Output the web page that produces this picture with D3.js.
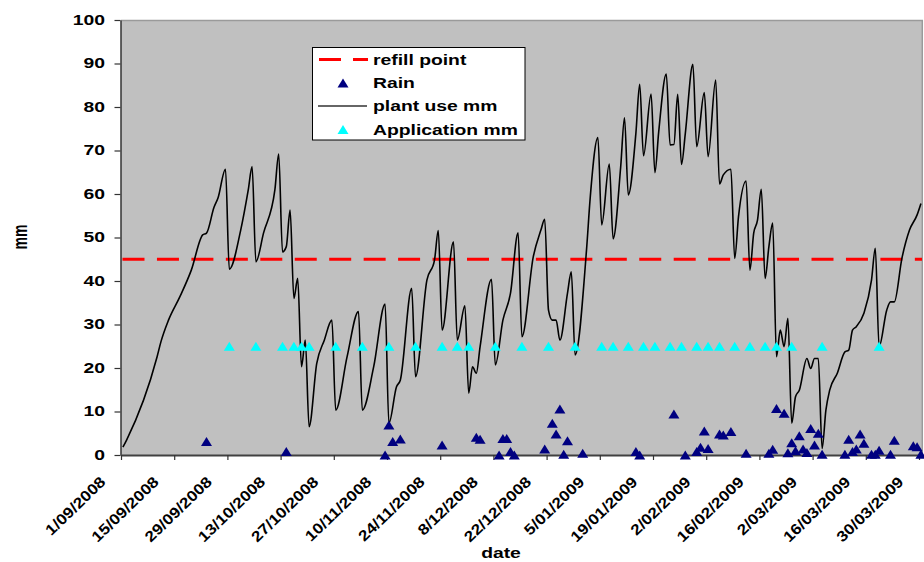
<!DOCTYPE html>
<html><head><meta charset="utf-8">
<script src="https://cdn.jsdelivr.net/npm/d3@7"></script>
<style>
html,body{margin:0;padding:0;background:#fff;}
svg{display:block;font-family:"Liberation Sans",Arial,sans-serif;font-weight:bold;}
</style>
</head><body>
<svg id="chart" width="924" height="562"></svg>
<script>
// ---------- data ----------
const tickDates = ["2008-09-01","2008-09-15","2008-09-29","2008-10-13","2008-10-27","2008-11-10","2008-11-24",
  "2008-12-08","2008-12-22","2009-01-05","2009-01-19","2009-02-02","2009-02-16","2009-03-02","2009-03-16","2009-03-30"];
const yTicks = [0,10,20,30,40,50,60,70,80,90,100];
const refillPoint = 45;

const plantUse = [
["2008-09-01",1.8],["2008-09-02",3.5],["2008-09-10",22.6],["2008-09-11",26],["2008-09-13",31],["2008-09-16",36.4],
["2008-09-19",42.5],["2008-09-22",50.6],["2008-09-23",51],["2008-09-25",57],["2008-09-26",59],["2008-09-28",65.7],
["2008-09-29",42.7],["2008-10-02",51.7],["2008-10-04",61],["2008-10-05",66.3],["2008-10-06",44.4],["2008-10-08",51],
["2008-10-11",61],["2008-10-12",69.2],["2008-10-13",46.7],["2008-10-14",47.9],["2008-10-15",56.3],["2008-10-16",36],
["2008-10-17",40.6],["2008-10-18",20.3],["2008-10-19",26.4],["2008-10-20",6.5],["2008-10-22",21],["2008-10-24",26.4],
["2008-10-26",31],["2008-10-27",10.3],["2008-10-30",22.6],["2008-11-02",33],["2008-11-03",10.3],["2008-11-06",20.3],
["2008-11-09",34.7],["2008-11-10",7.3],["2008-11-12",15.7],["2008-11-13",17.2],["2008-11-16",38.3],["2008-11-17",18],
["2008-11-20",40.2],["2008-11-22",44.8],["2008-11-23",51.6],["2008-11-24",28.7],["2008-11-27",49],["2008-11-28",26.4],
["2008-11-30",34.3],["2008-12-01",14.2],["2008-12-02",20.3],["2008-12-03",18.8],["2008-12-04",24.9],["2008-12-07",40.4],
["2008-12-08",20.7],["2008-12-10",31],["2008-12-12",37.2],["2008-12-14",51.1],["2008-12-15",27.2],["2008-12-18",45.6],
["2008-12-20",51.7],["2008-12-21",54.2],["2008-12-22",33.3],["2008-12-23",31],["2008-12-24",31],["2008-12-25",26.4],
["2008-12-27",37.2],["2008-12-28",42.1],["2008-12-29",23],["2009-01-01",47.1],["2009-01-02",59.4],["2009-01-04",73],
["2009-01-05",52.9],["2009-01-07",66.9],["2009-01-08",49.7],["2009-01-10",66.3],["2009-01-11",77.5],["2009-01-12",59.8],
["2009-01-14",74],["2009-01-15",85.2],["2009-01-16",68.8],["2009-01-18",83],["2009-01-19",64.9],["2009-01-20",74.3],
["2009-01-22",87.6],["2009-01-23",71.3],["2009-01-24",71.4],["2009-01-25",82.9],["2009-01-26",66.8],["2009-01-27",73.9],
["2009-01-29",89.8],["2009-01-30",70.9],["2009-02-01",83.3],["2009-02-02",68.6],["2009-02-04",86.2],["2009-02-05",62.3],
["2009-02-06",64.4],["2009-02-08",65.7],["2009-02-09",45.2],["2009-02-10",54.8],["2009-02-12",63],["2009-02-13",42.5],
["2009-02-14",51],["2009-02-15",54],["2009-02-16",61.1],["2009-02-17",40.6],["2009-02-18",47.9],["2009-02-19",53.3],
["2009-02-20",22.6],["2009-02-21",28.7],["2009-02-22",24.9],["2009-02-23",31.4],["2009-02-24",7.3],["2009-02-25",13.4],
["2009-02-26",14.9],["2009-02-28",22.2],["2009-03-01",19.9],["2009-03-02",22.2],["2009-03-03",22.2],["2009-03-04",1.5],
["2009-03-05",10.3],["2009-03-06",14.9],["2009-03-08",18.8],["2009-03-10",23.7],["2009-03-11",24.1],["2009-03-12",28.7],
["2009-03-13",29.5],["2009-03-15",32.6],["2009-03-17",40.2],["2009-03-18",47.5],["2009-03-19",24.9],["2009-03-21",33.3],
["2009-03-22",35.2],["2009-03-23",35.2],["2009-03-25",45.2],["2009-03-27",51.7],["2009-03-29",55.2],["2009-03-30",57.8]
];

const rain = [
["2008-09-23",3.1],["2008-10-14",0.8],["2008-11-09",0],["2008-11-10",6.9],["2008-11-11",3.1],["2008-11-13",3.7],
["2008-11-24",2.3],["2008-12-03",4.1],["2008-12-04",3.6],["2008-12-09",0],["2008-12-10",3.8],["2008-12-11",3.8],
["2008-12-12",0.8],["2008-12-13",0],["2008-12-21",1.4],["2008-12-23",7.3],["2008-12-24",4.8],["2008-12-25",10.6],
["2008-12-26",0.2],["2008-12-27",3.3],["2008-12-31",0.4],["2009-01-14",0.8],["2009-01-15",0],["2009-01-24",9.4],
["2009-01-27",0],["2009-01-30",0.8],["2009-01-31",1.8],["2009-02-01",5.5],["2009-02-02",1.5],["2009-02-05",4.8],
["2009-02-06",4.6],["2009-02-08",5.4],["2009-02-12",0.4],["2009-02-18",0.4],["2009-02-19",1.3],["2009-02-20",10.7],
["2009-02-22",9.6],["2009-02-23",0.5],["2009-02-24",2.8],["2009-02-25",1],["2009-02-26",4.4],["2009-02-27",1.4],
["2009-02-28",0.6],["2009-03-01",6.1],["2009-03-02",2.3],["2009-03-03",5],["2009-03-04",0.2],["2009-03-10",0.2],
["2009-03-11",3.6],["2009-03-12",0.8],["2009-03-13",1.4],["2009-03-14",4.8],["2009-03-15",2.7],["2009-03-17",0.2],
["2009-03-18",0.2],["2009-03-19",1.1],["2009-03-22",0.2],["2009-03-23",3.4],["2009-03-28",2.1],["2009-03-29",1.9],
["2009-03-30",0.2]
];

const application = [
["2008-09-29",25],["2008-10-06",25],["2008-10-13",25],["2008-10-16",25],["2008-10-18",25],["2008-10-20",25],
["2008-10-27",25],["2008-11-03",25],["2008-11-10",25],["2008-11-17",25],["2008-11-24",25],["2008-11-28",25],
["2008-12-01",25],["2008-12-08",25],["2008-12-15",25],["2008-12-22",25],["2008-12-29",25],["2009-01-05",25],
["2009-01-08",25],["2009-01-12",25],["2009-01-16",25],["2009-01-19",25],["2009-01-23",25],["2009-01-26",25],
["2009-01-30",25],["2009-02-02",25],["2009-02-05",25],["2009-02-09",25],["2009-02-13",25],["2009-02-17",25],
["2009-02-20",25],["2009-02-24",25],["2009-03-04",25],["2009-03-19",25]
];

const legendItems = ["refill point","Rain","plant use mm","Application mm"];

// ---------- drawing ----------
const parse = d3.utcParse("%Y-%m-%d");
const noon = d => d3.utcHour.offset(parse(d), 12);
const SX = 1.38; // horizontal text stretch

const x = d3.scaleUtc().domain([parse("2008-09-01"), parse("2009-03-31")]).range([121, 922.8]);
const y = d3.scaleLinear().domain([0, 100]).range([455, 20]);

const svg = d3.select("#chart");

// plot area
svg.append("rect").attr("x", 121).attr("y", 20).attr("width", 801.5).attr("height", 435).attr("fill", "#C0C0C0");
svg.append("path").attr("d", "M121,20.5H922.3V455").attr("fill", "none").attr("stroke", "#9a9a9a").attr("stroke-width", 1.5);

// refill line
svg.append("line")
  .attr("x1", 122.5).attr("x2", 922).attr("y1", y(refillPoint)).attr("y2", y(refillPoint))
  .attr("stroke", "#FF0000").attr("stroke-width", 3.2).attr("stroke-dasharray", "22,12.45");

// plant use line
const line = d3.line().x(d => x(noon(d[0]))).y(d => y(d[1])).curve(d3.curveMonotoneX);
svg.append("path").datum(plantUse).attr("d", line)
  .attr("fill", "none").attr("stroke", "#000").attr("stroke-width", 1.6).attr("stroke-linejoin", "round");

// axes
const yAxis = svg.append("g").attr("transform", "translate(120.5,0)")
  .call(d3.axisLeft(y).tickValues(yTicks).tickSize(6).tickSizeOuter(0));
yAxis.select(".domain").attr("stroke", "#333").attr("stroke-width", 1.5);
yAxis.selectAll(".tick line").attr("stroke", "#333").attr("stroke-width", 1.2);
yAxis.selectAll(".tick text").attr("font-size", 14).attr("font-weight", "bold").attr("fill", "#000")
  .attr("font-family", "Liberation Sans, Arial, sans-serif")
  .attr("x", -11.3).attr("transform", `scale(${SX},1)`);

const xAxis = svg.append("g").attr("transform", "translate(0,455)")
  .call(d3.axisBottom(x).tickValues(tickDates.map(parse)).tickFormat(d3.utcFormat("%-d/%m/%Y")).tickSize(5).tickSizeOuter(0));
xAxis.select(".domain").attr("stroke", "#404040").attr("stroke-width", 2);
xAxis.selectAll(".tick line").attr("stroke", "#333").attr("stroke-width", 1.2);
xAxis.selectAll(".tick text").attr("font-size", 15).attr("font-weight", "bold").attr("fill", "#000")
  .attr("font-family", "Liberation Sans, Arial, sans-serif")
  .attr("x", 0).attr("y", 0).attr("dy", 0).attr("text-anchor", "end")
  .attr("transform", "translate(-15,28) rotate(-44) scale(1.15,1)");

// markers
const tri = "M0,-4.5L5.5,4.5L-5.5,4.5Z";
svg.append("g").selectAll("path").data(rain).join("path")
  .attr("d", tri).attr("fill", "#000080")
  .attr("transform", d => `translate(${x(noon(d[0]))},${y(d[1])})`);
svg.append("g").selectAll("path").data(application).join("path")
  .attr("d", tri).attr("fill", "#00FFFF")
  .attr("transform", d => `translate(${x(noon(d[0]))},${y(d[1])})`);

// axis titles
svg.append("text").attr("transform", `translate(20,237) scale(${SX},1) rotate(-90)`)
  .attr("text-anchor", "middle").attr("dy", "0.35em").attr("font-size", 14).text("mm");
svg.append("text").attr("transform", `translate(501,558) scale(${SX},1)`)
  .attr("text-anchor", "middle").attr("font-size", 14).text("date");

// legend
const lg = svg.append("g");
lg.append("rect").attr("x", 312.5).attr("y", 47.5).attr("width", 212.5).attr("height", 92.5)
  .attr("fill", "#fff").attr("stroke", "#000").attr("stroke-width", 1);
const rowY = [59.5, 83, 106, 129.5];
lg.append("line").attr("x1", 319).attr("x2", 368).attr("y1", rowY[0]).attr("y2", rowY[0])
  .attr("stroke", "#FF0000").attr("stroke-width", 3.2).attr("stroke-dasharray", "22,12");
lg.append("path").attr("d", tri).attr("fill", "#000080").attr("transform", `translate(343,${rowY[1]})`);
lg.append("line").attr("x1", 318).attr("x2", 367).attr("y1", rowY[2]).attr("y2", rowY[2])
  .attr("stroke", "#333").attr("stroke-width", 1.6);
lg.append("path").attr("d", tri).attr("fill", "#00FFFF").attr("transform", `translate(343,${rowY[3]})`);
lg.selectAll("text.lt").data(legendItems).join("text").attr("class", "lt")
  .attr("transform", (d, i) => `translate(373,${rowY[i]}) scale(${SX},1)`)
  .attr("dy", "0.36em").attr("font-size", 14).text(d => d);
</script>
</body></html>
